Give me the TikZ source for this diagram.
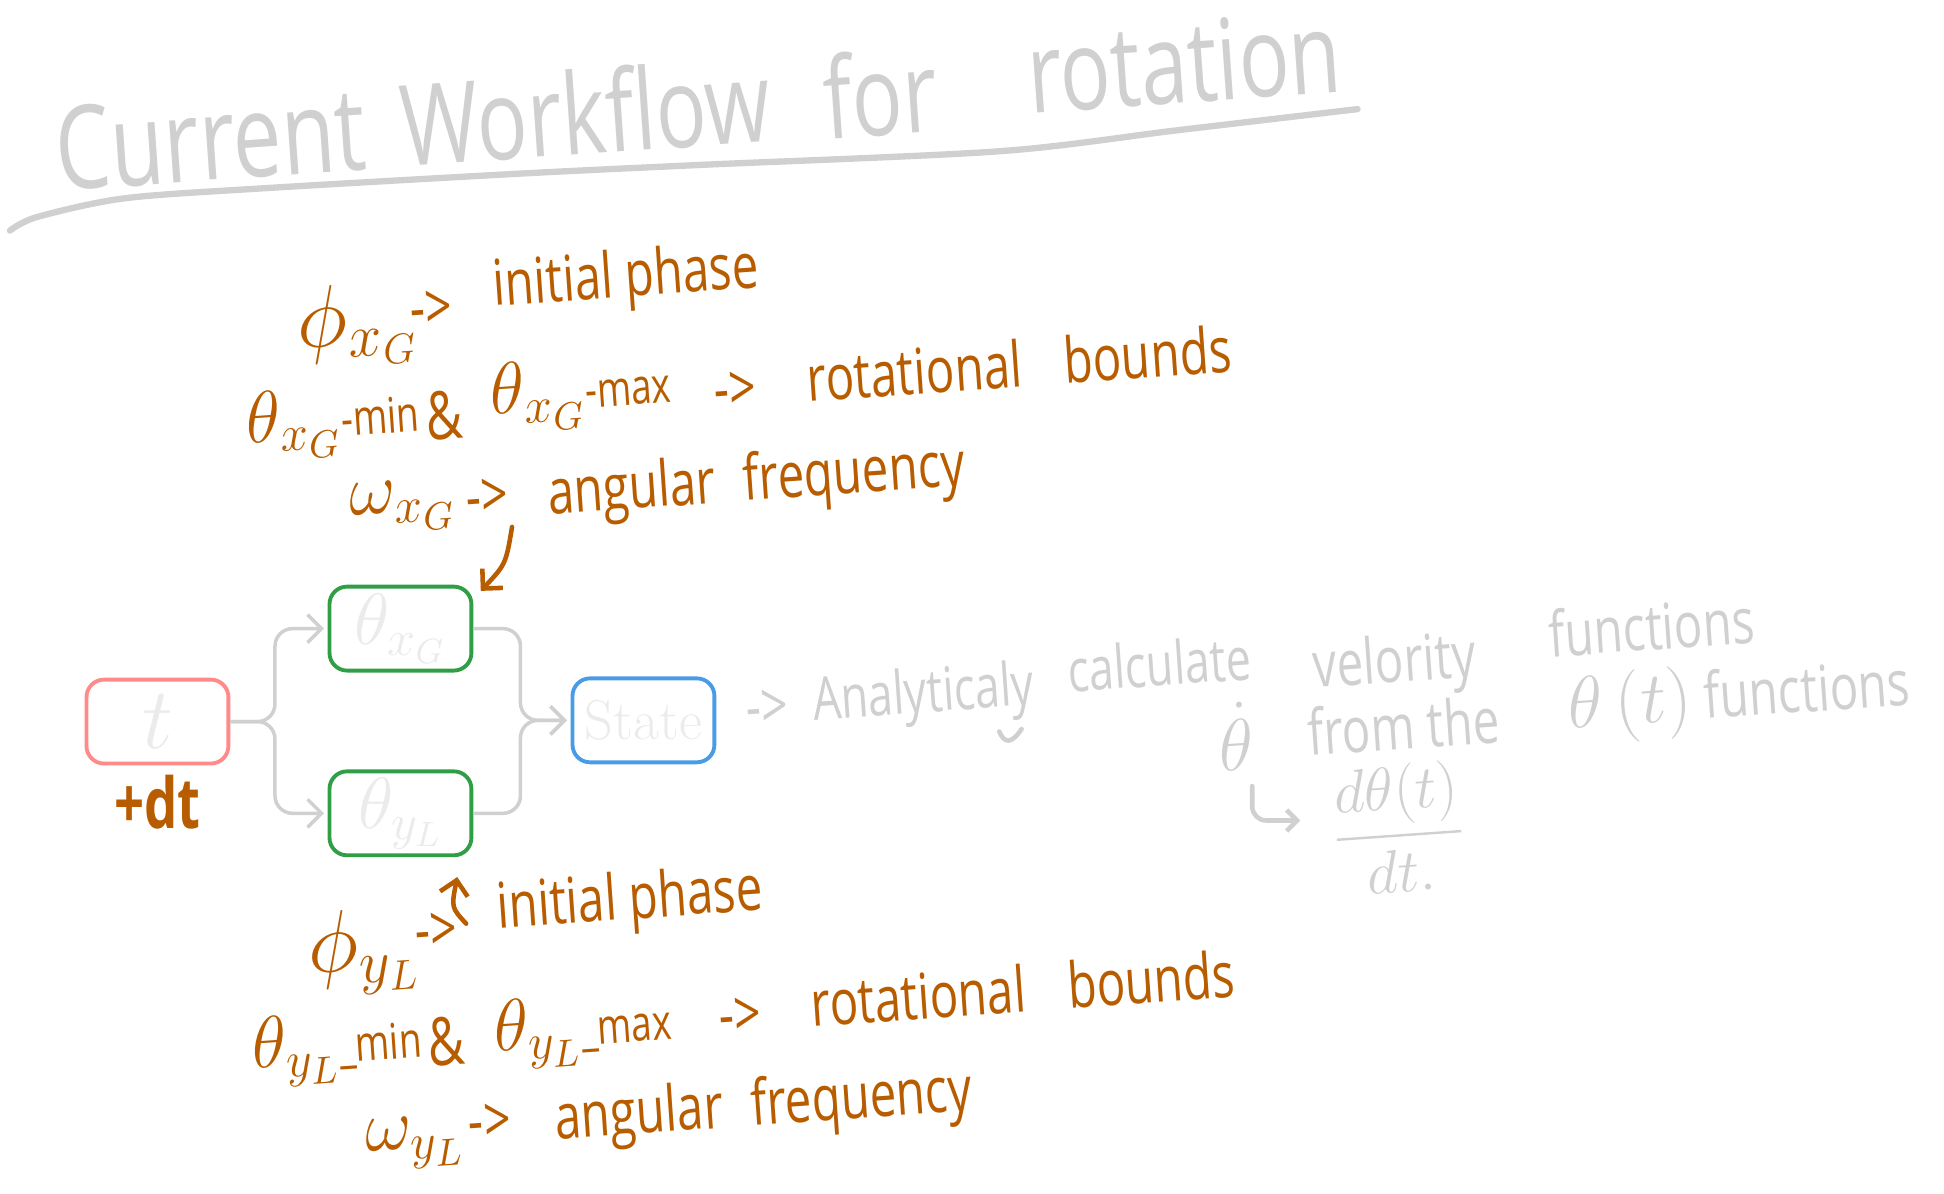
\documentclass[tikz,border=0pt]{standalone}
\usepackage{fontspec}
\usepackage{amsmath}
\usetikzlibrary{arrows.meta, calc}
\newfontfamily\handfont[FakeStretch=0.75]{Open Sans}
\definecolor{handbrown}{HTML}{B85C00}
\definecolor{inkgray}{HTML}{D0D0D0}
\definecolor{boxtext}{HTML}{EBEBEB}
\definecolor{tred}{HTML}{FF8A8A}
\definecolor{thgreen}{HTML}{2F9E44}
\definecolor{stblue}{HTML}{4A9BE5}
\newcommand{\limtxt}[1]{{\fontsize{14}{14}\selectfont #1}}

\begin{document}
\begin{tikzpicture}[x=0.0124cm, y=-0.0124cm,
  blk/.style={draw=#1, rounded corners=5pt, line width=1.1pt, text=boxtext,
              minimum width=1.42cm, minimum height=0.84cm, inner sep=0pt},
  hand/.style={font=\handfont\fontsize{#1}{#1}\selectfont, inner sep=0pt, rotate=4},
  br/.style={hand=#1, text=handbrown},
  gr/.style={hand=#1, text=inkgray},
  conn/.style={draw=inkgray, line width=1pt, rounded corners=5pt,
               -{Straight Barb[length=4pt, width=8pt]}, shorten >=1pt},
  bra/.style={draw=handbrown, line width=1.3pt, line cap=round,
              -{Straight Barb[length=4pt, width=8pt]}},
  gra/.style={draw=inkgray, line width=1.3pt, line cap=round,
              -{Straight Barb[length=3pt, width=6pt]}}
]
  \useasboundingbox (0,0) rectangle (1568,963);

  % ── title ───────────────────────────────────────────────────────────────
  \node[gr=33] (ttl1) at (170,112) {Current};
  \node[gr=32] (ttl2) at (472,90)  {Workflow};
  \node[gr=32] (ttl3) at (710,75)  {for};
  \node[gr=32] (ttl4) at (955,50)  {rotation};
  \draw[inkgray, line width=1.8pt, line cap=round] plot[smooth] coordinates
    {(8,186) (30,175) (100,160) (210,152) (420,140) (565,133) (806,122) (950,105) (1095,88)};

  % ── blocks ──────────────────────────────────────────────────────────────
  \node[blk=tred]    (tbox)  at (127,582) {\fontsize{28}{28}\selectfont$t$};
  \node[blk=thgreen] (thx)   at (323,507) {\fontsize{20}{20}\selectfont$\theta_{x_G}$};
  \node[blk=thgreen] (thy)   at (323,656) {\fontsize{20}{20}\selectfont$\theta_{y_L}$};
  \node[blk=stblue]  (state) at (519,581) {\fontsize{16}{16}\selectfont State};
  \node[br=20, rotate=-4, font=\handfont\bfseries\fontsize{20}{20}\selectfont] (dt) at (127,647) {+dt};

  \draw[conn] (tbox.east) -- ++(36,0) |- (thx.west);
  \draw[conn] (tbox.east) -- ++(36,0) |- (thy.west);
  \draw[conn] (thx.east)  -- ++(38,0) |- (state.west);
  \draw[conn] (thy.east)  -- ++(38,0) |- (state.west);

  % ── parameters of theta_xG ──────────────────────────────────────────────
  \node[br=26] (phix)   at (288,262) {$\phi_{x_G}$};
  \node[br=18] (phixa)  at (348,250) {->};
  \node[br=18] (initx)  at (505,226) {initial phase};
  \node[br=21, anchor=west] (thxmin) at (198,345) {$\theta_{x_G}$\limtxt{-min}};
  \node[br=19] (ampx)   at (358,335) {\&};
  \node[br=21, anchor=west] (thxmax) at (395,322) {$\theta_{x_G}$\limtxt{-max}};
  \node[br=18] (thxa)   at (593,315) {->};
  \node[br=18] (rotx)   at (822,293) {rotational\hspace{12pt}bounds};
  \node[br=22] (wx)     at (325,408) {$\omega_{x_G}$};
  \node[br=18] (wxa)    at (393,402) {->};
  \node[br=18] (angx)   at (610,390) {angular\hspace{8pt}frequency};
  \coordinate (wxend) at (413,425);
  \draw[bra] (wxend) .. controls (408,455) .. ($(thx.north east)+(6,5)$);

  % ── parameters of theta_yL ──────────────────────────────────────────────
  \node[br=26] (phiy)   at (293,768) {$\phi_{y_L}$};
  \node[br=18] (phiya)  at (352,752) {->};
  \node[br=18] (inity)  at (508,728) {initial phase};
  \node[br=21, anchor=west] (thymin) at (203,850) {$\theta_{y_L}$\limtxt{\_min}};
  \node[br=19] (ampy)   at (360,840) {\&};
  \node[br=21, anchor=west] (thymax) at (398,836) {$\theta_{y_L}$\limtxt{\_max}};
  \node[br=18] (thya)   at (597,820) {->};
  \node[br=18] (roty)   at (825,797) {rotational\hspace{12pt}bounds};
  \node[br=22] (wy)     at (335,922) {$\omega_{y_L}$};
  \node[br=18] (wya)    at (395,906) {->};
  \node[br=18] (angy)   at (616,894) {angular\hspace{8pt}frequency};
  \coordinate (phiyend) at (376,745);
  \draw[bra] (phiyend) .. controls (364,732) .. ($(thy.south east)+(-13,16)$);

  % ── velocity note ───────────────────────────────────────────────────────
  \node[gr=18] (anla)    at (619,572)  {->};
  \node[gr=17] (anal)    at (745,562)  {Analyticaly};
  \node[gr=17] (calc)    at (935,535)  {calculate};
  \node[gr=18] (velo)    at (1125,537) {velority};
  \node[gr=18] (func)    at (1332,505) {functions};
  \node[gr=22] (thdot)   at (997,594)  {$\dot{\theta}$};
  \node[gr=18] (fromthe) at (1132,585) {from the};
  \node[gr=18, anchor=west] (thfunc) at (1264,573) {{\fontsize{22}{22}\selectfont$\theta\,(t)$} functions};
  \node[gr=16] (frac)    at (1128,668) {$\dfrac{d\theta(t)}{dt.}$};
  \draw[inkgray, line width=1.3pt, line cap=round] (806,590) .. controls (810,600) and (816,600) .. (824,588);
  \coordinate (hook) at (1010,634);
  \draw[gra, rounded corners=4pt] (hook) |- ($(frac.west)+(-25,-10)$);
\end{tikzpicture}
\end{document}
